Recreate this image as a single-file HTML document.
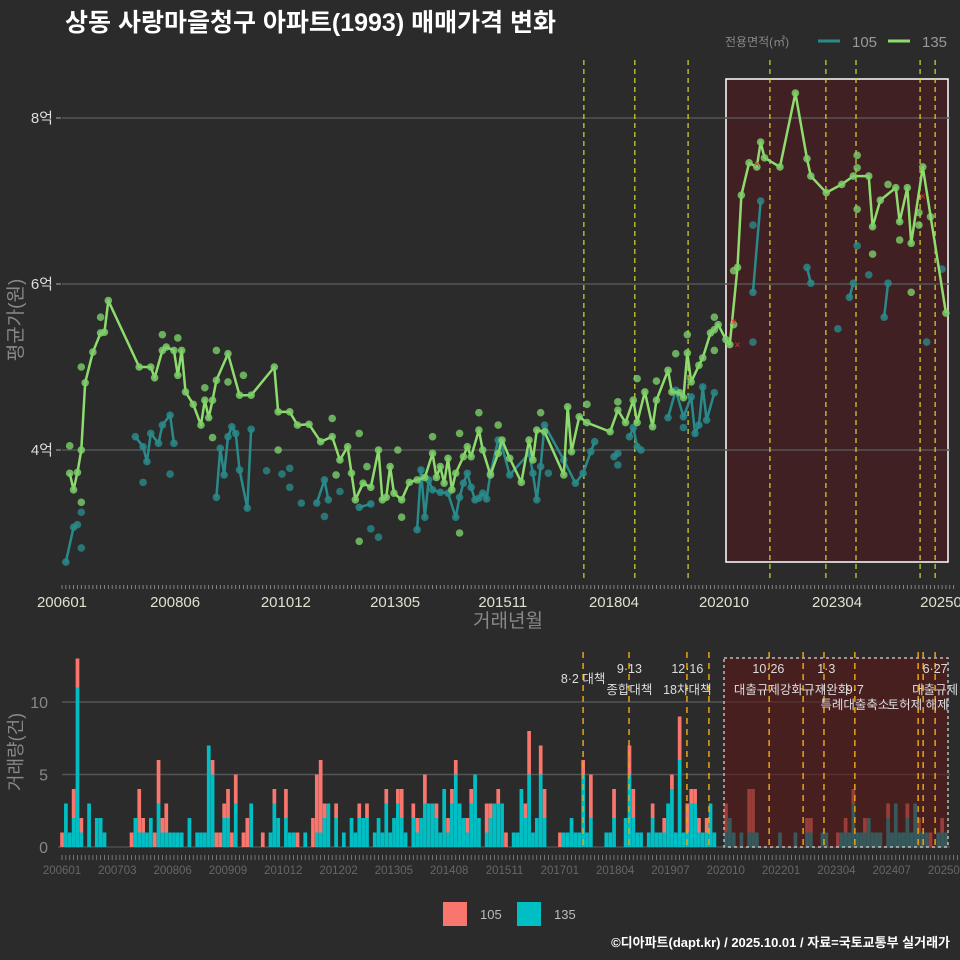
<!DOCTYPE html>
<html><head><meta charset="utf-8">
<style>
html,body{margin:0;padding:0;background:#2b2b2b;}
body{width:960px;height:960px;overflow:hidden;font-family:"Liberation Sans","Noto Sans CJK KR",sans-serif;}
svg{display:block;}
svg text{font-family:"Liberation Sans","Noto Sans CJK KR",sans-serif;}
</style></head>
<body>
<svg id="chart" width="960" height="960" xmlns="http://www.w3.org/2000/svg">
<rect x="0" y="0" width="960" height="960" fill="#2b2b2b"/>
<text x="65" y="31" fill="#ffffff" font-size="25" font-weight="bold">상동 사랑마을청구 아파트(1993) 매매가격 변화</text>
<g>
<text x="725" y="46" fill="#888" font-size="12">전용면적(㎡)</text>
<line x1="818" y1="41" x2="840" y2="41" stroke="#2a8a8a" stroke-width="3"/>
<text x="852" y="47" fill="#999" font-size="15">105</text>
<line x1="888" y1="41" x2="910" y2="41" stroke="#8fdc6e" stroke-width="3"/>
<text x="922" y="47" fill="#999" font-size="15">135</text>
</g>
<rect x="726" y="79" width="222" height="483" fill="#4a1e22" fill-opacity="0.75" stroke="#ffffff" stroke-width="1.5"/>
<g id="topg"></g>
<g id="botg"></g>
<rect x="724" y="658" width="224" height="189" fill="#5a1818" fill-opacity="0.6" stroke="#bbbbbb" stroke-width="1.5" stroke-dasharray="3,3"/>
<g id="botlab"></g>
<text transform="translate(22,320) rotate(-90)" text-anchor="middle" fill="#888" font-size="19">평균가(원)</text>
<text x="508" y="627" text-anchor="middle" fill="#888" font-size="19">거래년월</text>
<text transform="translate(22,752) rotate(-90)" text-anchor="middle" fill="#888" font-size="18">거래량(건)</text>
<g>
<rect x="443" y="902" width="24" height="24" fill="#f8766d"/>
<text x="480" y="919" fill="#bbb" font-size="13">105</text>
<rect x="517" y="902" width="24" height="24" fill="#00bfc4"/>
<text x="554" y="919" fill="#bbb" font-size="13">135</text>
</g>
<text x="950" y="947" text-anchor="end" fill="#ffffff" font-size="13" font-weight="bold">©디아파트(dapt.kr) / 2025.10.01 / 자료=국토교통부 실거래가</text>
</svg>
<script>
// ---- data (month index from 2006-01) ----
const m135 = [2,3,4,5,6,8,10,11,12,20,23,24,26,27,29,30,31,32,34,36,37,38,39,40,43,46,49,55,56,59,61,64,67,70,72,74,75,76,78,80,82,83,84,85,86,88,90,92,94,96,97,98,99,100,101,102,104,105,106,108,109,111,113,114,116,119,121,122,123,125,130,131,132,134,136,142,144,146,148,149,151,153,154,157,158,160,161,162,163,165,166,168,169,170,172,173,175,176,178,180,181,182,186,190,193,194,198,202,205,209,210,212,216,217,219,220,223,229];
const v135 = [3.72,3.52,3.73,4.0,4.81,5.18,5.41,5.42,5.80,5.00,5.00,4.87,5.20,5.24,5.20,4.90,5.20,4.70,4.55,4.30,4.60,4.39,4.60,4.84,5.16,4.66,4.66,5.00,4.46,4.46,4.30,4.31,4.10,4.16,3.88,4.04,3.72,3.40,3.60,3.55,4.00,3.40,3.43,3.80,3.48,3.40,3.61,3.64,3.67,3.96,3.67,3.80,3.60,3.90,3.52,3.72,3.92,4.04,3.92,4.24,4.00,3.70,3.96,4.12,3.90,3.61,4.12,3.88,4.24,4.22,3.70,4.52,3.98,4.40,4.33,4.22,4.48,4.33,4.60,4.33,4.70,4.28,4.60,4.96,4.70,4.69,4.63,5.17,4.82,5.02,5.11,5.41,5.45,5.51,5.33,5.27,6.20,7.07,7.46,7.41,7.71,7.52,7.41,8.30,7.51,7.30,7.10,7.20,7.30,7.30,6.69,7.01,7.16,6.75,7.16,6.49,7.41,5.65];
const m105 = [1,3,4,null,19,21,22,23,25,26,28,29,null,40,41,42,43,44,45,46,48,49,null,66,68,69,null,77,80,null,92,93,94,95,96,98,100,102,103,104,105,106,107,108,109,110,111,113,114,116,121,122,123,124,125,130,133,135,137,138,null,143,144,null,147,148,149,150,null,157,159,161,163,164,165,166,167,169,null,179,181,null,193,194,null,204,205,null,213,214];
const v105 = [2.65,3.07,3.10,null,4.16,4.04,3.86,4.20,4.08,4.30,4.42,4.08,null,3.43,4.02,3.70,4.16,4.28,4.20,3.76,3.30,4.25,null,3.36,3.64,3.40,null,3.31,3.35,null,3.04,3.76,3.19,3.64,3.52,3.49,3.48,3.19,3.43,3.60,3.72,3.55,3.40,3.42,3.48,3.41,3.72,4.12,4.04,3.70,3.96,3.72,3.40,3.80,4.30,3.88,3.60,3.72,3.98,4.10,null,3.92,3.96,null,4.16,4.27,4.04,4.00,null,4.39,4.72,4.40,4.64,4.20,4.30,4.76,4.36,4.69,null,5.90,7.00,null,6.20,6.01,null,5.84,6.01,null,5.60,6.01];
const x135extra = [2,5,10,26,39,40,43,56,70,71,77,77,79,87,88,96,103,103,108,113,124,136,144,149,154,159,162,169,169,174,174,206,206,206,210,214,217,220,222,222,225,5,30,37,47];
const y135extra = [4.05,5.0,5.6,5.39,4.15,5.20,4.82,4.0,4.38,3.70,4.20,2.90,3.80,4.0,3.19,4.16,4.20,3.0,4.45,4.30,4.45,4.55,4.58,4.86,4.83,5.16,5.39,5.60,5.20,6.16,5.51,7.55,7.40,6.90,6.36,7.20,6.53,5.90,6.86,6.71,6.81,3.37,5.35,4.75,4.9];
const x105extra = [5,5,21,28,53,57,59,59,62,72,68,144,161,126,179,179,201,206,209,228,224,80,82];
const y105extra = [2.82,3.25,3.61,3.71,3.75,3.71,3.78,3.55,3.36,3.50,3.20,3.82,4.27,3.72,5.30,6.71,5.46,6.46,6.11,6.18,5.30,3.05,2.95];
const cancelM = [174,175,180,223];
const cancelV = [5.55,5.27,7.45,7.06];
const yTicks = [4,6,8];
const yTickLabels = ['4억','6억','8억'];
const topPolicyM = [135.2,148.4,162.2,183.4,197.9,205.7,222.3,226.2];
const topTickM = [0,29.3,58,86.3,114.2,143,171.5,200.8,228.8];
const topTickLabels = ['200601','200806','201012','201305','201511','201804','202010','202304','202505'];
const cnt135 = [0,3,1,2,11,1,0,3,0,2, 2,1,0,0,0,0,0,0,0,2, 1,1,1,2,0,3,1,1,1,1, 1,1,0,2,0,1,1,1,7,5, 0,0,2,2,0,3,0,0,0,3, 0,0,0,0,1,3,2,0,2,1, 1,0,0,1,0,0,1,1,2,3, 0,2,0,1,0,2,1,2,2,2, 0,1,2,1,3,1,2,3,2,1, 0,2,1,2,3,3,3,2,1,4, 1,3,5,3,2,1,3,5,2,0, 1,2,3,3,3,0,0,1,1,4, 2,5,1,2,5,2,0,0,0,0, 1,1,2,1,1,5,1,2,0,0, 0,1,1,2,0,0,2,5,2,1, 1,0,1,2,1,1,1,3,4,1, 6,1,1,3,3,1,1,1,3,1, 0,0,1,2,1,0,1,0,1,1, 1,0,0,0,0,0,1,0,0,0, 1,0,0,1,1,0,0,1,1,0, 0,0,1,1,1,3,1,1,1,2, 1,1,1,0,2,1,3,1,1,2, 1,3,1,1,1,0,0,1,1,1];
const cnt105 = [1,0,0,2,2,1,0,0,0,0, 0,0,0,0,0,0,0,0,1,0, 3,1,0,0,1,3,1,2,0,0, 0,0,0,0,0,0,0,0,0,1, 1,1,1,2,1,2,0,1,2,0, 0,0,1,0,0,1,0,0,2,0, 0,1,0,0,0,2,4,5,1,0, 0,1,0,0,0,0,0,1,0,1, 0,0,0,0,1,0,0,1,2,0, 0,1,1,0,2,0,0,1,0,0, 1,1,1,0,0,1,1,0,0,0, 2,1,0,1,0,1,0,0,0,0, 1,3,0,0,2,2,0,0,0,1, 0,0,0,0,0,1,0,3,0,0, 0,0,0,2,0,0,0,2,2,0, 0,0,0,1,0,0,1,0,1,0, 3,0,2,1,1,1,0,1,0,0, 0,0,2,0,0,0,0,0,3,3, 0,0,0,0,0,0,0,0,0,0, 0,0,0,1,1,0,0,0,0,0, 0,1,0,1,0,1,0,0,1,0, 0,0,0,0,1,0,0,0,0,1, 0,0,1,0,0,1,0,0,1,0];
const cntTicks = [0,5,10];
const botPolicyM = [135,146.9,161.9,167.6,183.2,192,197.4,205.4,221.8,223.1,226.2];
const botTickStep = 14.33;
const botTickLabels = ['200601','200703','200806','200909','201012','201202','201305','201408','201511','201701','201804','201907','202010','202201','202304','202407','202509'];
const policyDates = ['8·2 대책','9·13','12·16','10·26','1·3','6·27'];
const policyDateM = [135,147,162,183,198,226.2];
const policyNames = ['종합대책','18차대책','대출규제강화','규제완화','9·7','대출규제'];
const policyNameM = [147,162,183,198,205.4,226.2];
const policyNames2 = ['특례대출축소','토허제 해제'];
const policyName2M = [205.4,221.8];

// ---- scales ----
const X = m => 62 + 3.86*m;
const Y = v => 450 - (v-4)*83;
const YB = c => 847 - c*14.5;
const NS = 'http://www.w3.org/2000/svg';
function mk(parent, tag, attrs){const e=document.createElementNS(NS,tag);for(const k in attrs)e.setAttribute(k,attrs[k]);parent.appendChild(e);return e;}
const topG = document.getElementById('topg');
const botG = document.getElementById('botg');
const labG = document.getElementById('botlab');

yTicks.forEach((t,i)=>{
  const g = mk(topG,'line',{x1:62,x2:950,y1:Y(t),y2:Y(t),stroke:'#555','stroke-width':1.5});
  
  
  const tk = mk(topG,'line',{x1:56,x2:61,y1:Y(t),y2:Y(t),stroke:'#aaa','stroke-width':1});
  
  
  const tx = mk(topG,'text',{x:53,y:Y(t)+5,'text-anchor':'end',fill:'#ddd','font-size':15});
  tx.textContent = yTickLabels[i];
  
  
});
topPolicyM.forEach(m=>{
  const l = mk(topG,'line',{x1:X(m),x2:X(m),y1:60,y2:580,stroke:'#d8d830','stroke-width':1.2,'stroke-dasharray':'5,4'});
  
  
});
for(let m=0;m<=231;m++){
  const t = mk(topG,'line',{x1:X(m),x2:X(m),y1:585,y2:589,stroke:'#999','stroke-width':0.8});
  
  
}
topTickM.forEach((m,i)=>{
  const t = mk(topG,'text',{x:X(m),y:607,'text-anchor':'middle',fill:'#e0e0d0','font-size':15});
  t.textContent = topTickLabels[i];
  
  
});
for(let i=0;i<x105extra.length;i++){
  const c = mk(topG,'circle',{cx:X(x105extra[i]),cy:Y(y105extra[i]),r:3.8,fill:'#2a8a8a','fill-opacity':0.8});
  
  
}
for(let i=0;i<x135extra.length;i++){
  const c = mk(topG,'circle',{cx:X(x135extra[i]),cy:Y(y135extra[i]),r:3.8,fill:'#7ccf6a','fill-opacity':0.8});
  
  
}
let seg=[];
function flush(){
  if(seg.length>1){
    const p = mk(topG,'polyline',{points:seg.join(' '),fill:'none',stroke:'#2a8a8a','stroke-width':2.5,'stroke-linejoin':'round'});
    
    
  }
  seg=[];
}
for(let i=0;i<m105.length;i++){
  if(m105[i]===null){flush();continue;}
  seg.push(X(m105[i])+','+Y(v105[i]));
  const c = mk(topG,'circle',{cx:X(m105[i]),cy:Y(v105[i]),r:3.8,fill:'#2a8a8a','fill-opacity':0.85});
  
  
}
flush();
const pts = m135.map((m,i)=>X(m)+','+Y(v135[i])).join(' ');
const pl = mk(topG,'polyline',{points:pts,fill:'none',stroke:'#8fdc6e','stroke-width':2.5,'stroke-linejoin':'round'});


m135.forEach((m,i)=>{
  const c = mk(topG,'circle',{cx:X(m),cy:Y(v135[i]),r:3.8,fill:'#7ccf6a','fill-opacity':0.85});
  
  
});
cancelM.forEach((m,i)=>{
  const t = mk(topG,'text',{x:X(m),y:Y(cancelV[i])+4,'text-anchor':'middle',fill:'#e03030','font-size':11});
  t.textContent='×';
  
  
});

cntTicks.forEach(t=>{
  if(t>0){
    const g = mk(botG,'line',{x1:62,x2:950,y1:YB(t),y2:YB(t),stroke:'#555','stroke-width':1.5});
    
    
  }
  const tx = mk(botG,'text',{x:48,y:YB(t)+6,'text-anchor':'end',fill:'#888','font-size':16});
  tx.textContent = t;
  
  
});
const base = mk(botG,'line',{x1:58,x2:950,y1:847,y2:847,stroke:'#555','stroke-width':1.2});


for(let m=0;m<cnt135.length;m++){
  const a = cnt135[m], b = cnt105[m];
  if(a>0){
    const r = mk(botG,'rect',{x:X(m)-1.8,y:YB(a),width:3.7,height:a*14.5,fill:'#00bfc4'});
    
    
  }
  if(b>0){
    const r = mk(botG,'rect',{x:X(m)-1.8,y:YB(a+b),width:3.7,height:b*14.5,fill:'#f8766d'});
    
    
  }
}
botPolicyM.forEach(m=>{
  const l = mk(labG,'line',{x1:X(m),x2:X(m),y1:652,y2:850,stroke:'#e8a317','stroke-width':1.5,'stroke-dasharray':'6,5'});
  
  
});
for(let m=0;m<=232;m++){
  const t = mk(labG,'line',{x1:X(m),x2:X(m),y1:855,y2:860,stroke:'#888','stroke-width':0.8});
  
  
}
botTickLabels.forEach((lab,i)=>{
  const t = mk(labG,'text',{x:X(i*botTickStep),y:874,'text-anchor':'middle',fill:'#666','font-size':11.5});
  t.textContent = lab;
  
  
});
policyDates.forEach((d,i)=>{
  const t = mk(labG,'text',{x:X(policyDateM[i]),y:i===0?683:673,'text-anchor':'middle',fill:'#ddd','font-size':12.5});
  t.textContent = d;
  
  
});
policyNames.forEach((d,i)=>{
  const t = mk(labG,'text',{x:X(policyNameM[i]),y:694,'text-anchor':'middle',fill:'#ddd','font-size':12.5});
  t.textContent = d;
  
  
});
policyNames2.forEach((d,i)=>{
  const t = mk(labG,'text',{x:X(policyName2M[i]),y:709,'text-anchor':'middle',fill:'#ddd','font-size':12.5});
  t.textContent = d;
  
  
});
</script>
</body></html>
